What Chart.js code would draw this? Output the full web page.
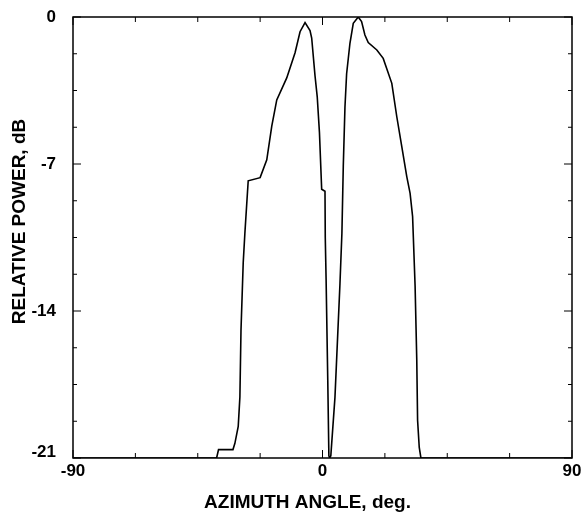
<!DOCTYPE html>
<html>
<head>
<meta charset="utf-8">
<script src="https://cdn.jsdelivr.net/npm/chart.js@4"></script>
<style>
  html, body { margin: 0; padding: 0; background: #fff; }
  #wrap { width: 585px; height: 514px; }
</style>
</head>
<body>
<div id="wrap"><canvas id="patternChart" width="585" height="514"></canvas></div>
<script>
// azimuth angle (deg) and relative power (dB)
var angles = [-90, -38.2, -37.5, -32.3, -31.6, -30.4, -29.8, -29.4, -28.6, -28.0, -26.8, -22.5, -20.1, -18.3, -16.5, -12.9, -9.9, -8.1, -6.3, -4.5, -3.9, -2.7, -1.9, -1.1, -0.3, 0.9, 1.0, 1.3, 1.9, 2.3, 2.6, 3.0, 4.5, 6.3, 7.0, 7.5, 8.1, 8.7, 9.9, 11.1, 12.9, 14.1, 15.3, 16.5, 19.6, 21.9, 25.0, 26.8, 28.6, 30.4, 31.6, 32.5, 33.4, 34.0, 34.3, 34.9, 35.5, 90];
var power = [-21, -21, -20.6, -20.6, -20.3, -19.5, -18.1, -14.9, -11.7, -10.3, -7.8, -7.65, -6.8, -5.2, -3.95, -2.9, -1.7, -0.7, -0.27, -0.65, -1.0, -2.8, -3.8, -5.5, -8.2, -8.3, -10.5, -12.5, -17.3, -20.9, -21, -20.9, -18.1, -12.7, -10.3, -7.1, -4.3, -2.7, -1.25, -0.3, 0, -0.22, -0.86, -1.22, -1.57, -1.97, -3.16, -4.75, -6.17, -7.6, -8.4, -9.5, -12.8, -16.3, -19.2, -20.5, -21, -21];
var xLabels = [-90, 0, 90];
var yLabels = [0, -7, -14, -21];
var xTitle = 'AZIMUTH ANGLE, deg.';
var yTitle = 'RELATIVE POWER, dB';

var family = 'Liberation Sans, Arial, sans-serif';
var tickFont = { family: family, size: 17, weight: 'bold' };

// frame, inward ticks on all four sides, axis titles
var framePlugin = {
    id: 'frame',
    afterDraw: function (chart) {
        var ctx = chart.ctx, a = chart.chartArea;
        var xs = chart.scales.x, ys = chart.scales.y;
        ctx.save();
        ctx.strokeStyle = '#000';
        ctx.lineWidth = 1.5;
        ctx.strokeRect(a.left, a.top, a.right - a.left, a.bottom - a.top);
        ctx.lineWidth = 1;
        ctx.beginPath();
        xs.ticks.forEach(function (t) {
            var px = xs.getPixelForValue(t.value);
            var len = xLabels.indexOf(t.value) >= 0 ? 8 : 5;
            ctx.moveTo(px, a.bottom); ctx.lineTo(px, a.bottom - len);
            ctx.moveTo(px, a.top); ctx.lineTo(px, a.top + len);
        });
        ys.ticks.forEach(function (t) {
            var py = ys.getPixelForValue(t.value);
            var len = yLabels.indexOf(t.value) >= 0 ? 8 : 4;
            ctx.moveTo(a.left, py); ctx.lineTo(a.left + len, py);
            ctx.moveTo(a.right, py); ctx.lineTo(a.right - len, py);
        });
        ctx.stroke();

        ctx.fillStyle = '#000';
        ctx.font = 'bold 19px ' + family;
        ctx.textAlign = 'center';
        ctx.textBaseline = 'alphabetic';
        ctx.fillText(xTitle, (a.left + a.right) / 2 - 15, a.bottom + 50);
        ctx.translate(20, (a.top + a.bottom) / 2 - 16);
        ctx.rotate(-Math.PI / 2);
        ctx.textBaseline = 'middle';
        ctx.fillText(yTitle, 0, 0);
        ctx.restore();
    }
};

var ctx = document.getElementById('patternChart').getContext('2d');
new Chart(ctx, {
    type: 'scatter',
    data: {
        datasets: [{
            data: angles.map(function (a, i) { return { x: a, y: power[i] }; }),
            showLine: true,
            borderColor: '#000',
            borderWidth: 1.6,
            pointRadius: 0,
            tension: 0
        }]
    },
    options: {
        responsive: false,
        animation: false,
        layout: { padding: { left: 0, right: 13, top: 17, bottom: 0 } },
        plugins: { legend: { display: false }, tooltip: { enabled: false } },
        scales: {
            x: {
                type: 'linear', min: -90, max: 90,
                ticks: {
                    stepSize: 22.5, autoSkip: false, maxRotation: 0, padding: 3,
                    color: '#000', font: tickFont,
                    callback: function (v) { return xLabels.indexOf(v) >= 0 ? String(v) : ''; }
                },
                grid: { drawOnChartArea: false, drawTicks: false },
                border: { display: false },
                afterFit: function (s) { s.height = 56; s.paddingLeft = 0; s.paddingRight = 0; }
            },
            y: {
                type: 'linear', min: -21, max: 0,
                ticks: {
                    stepSize: 1.75, autoSkip: false, padding: 17,
                    color: '#000',
                    // bottom label sits a little above the axis, as in the original
                    font: function (c) {
                        return c.tick && c.tick.value === -21
                            ? { family: family, size: 17, weight: 'bold', lineHeight: 0.7 }
                            : tickFont;
                    },
                    callback: function (v) {
                        if (v === -21) return ['-21', ''];
                        return yLabels.indexOf(v) >= 0 ? String(v) : '';
                    }
                },
                grid: { drawOnChartArea: false, drawTicks: false },
                border: { display: false },
                afterFit: function (s) { s.width = 73; s.paddingTop = 0; s.paddingBottom = 0; }
            }
        }
    },
    plugins: [framePlugin]
});
</script>
</body>
</html>
